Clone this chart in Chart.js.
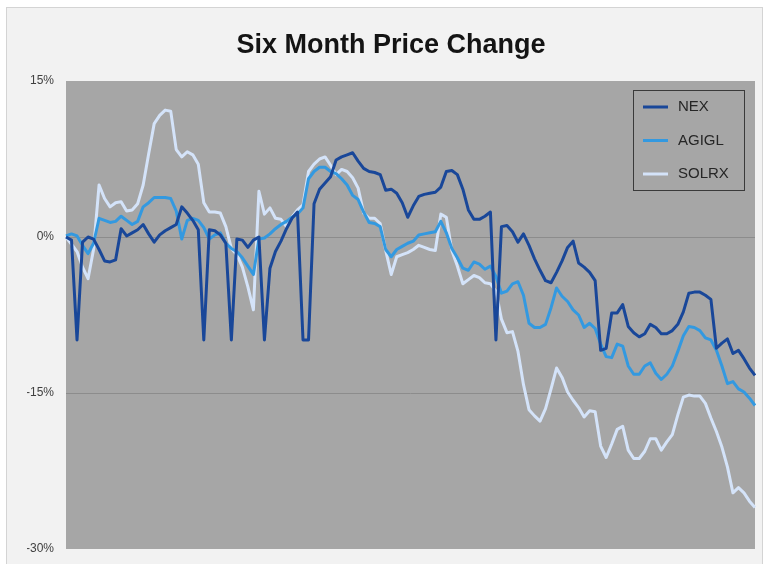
<!DOCTYPE html>
<html>
<head>
<meta charset="utf-8">
<title>Six Month Price Change</title>
<script src="https://cdn.jsdelivr.net/npm/chart.js@4.4.1/dist/chart.umd.min.js"></script>
<style>
  html, body { margin: 0; padding: 0; background: #ffffff; }
  canvas { display: block; }
</style>
</head>
<body>
<canvas id="priceChart" width="769" height="564"></canvas>
<script>
// trading days over the six months (x axis is not labelled in the original)
var days = Array.from({ length: 126 }, function (_, i) { return i + 1; });

// percent change
var nex = [
  0, -0.3, -9.9, -0.5, 0, -0.2, -1.2, -2.3, -2.4, -2.2,
  0.8, 0.1, 0.4, 0.7, 1.2, 0.3, -0.5, 0.2, 0.6, 0.9,
  1.2, 2.9, 2.3, 1.6, 0.7, -9.9, 0.7, 0.6, 0.2, -0.6,
  -9.9, -0.2, -0.3, -1.0, -0.3, 0, -9.9, -3.0, -1.4, -0.4,
  0.8, 1.8, 2.4, -9.9, -9.9, 3.2, 4.6, 5.2, 5.8, 7.4,
  7.7, 7.9, 8.1, 7.3, 6.6, 6.3, 6.2, 6.0, 4.5, 4.6,
  4.2, 3.3, 1.9, 3.0, 3.9, 4.1, 4.2, 4.3, 4.8, 6.3,
  6.4, 6.0, 4.6, 2.6, 1.7, 1.7, 2.0, 2.4, -9.9, 1.0,
  1.1, 0.5, -0.5, 0.3, -0.8, -2.1, -3.2, -4.2, -4.4, -3.4,
  -2.3, -1.0, -0.4, -2.5, -2.9, -3.4, -4.2, -10.9, -10.7, -7.3,
  -7.3, -6.5, -8.6, -9.2, -9.6, -9.3, -8.4, -8.7, -9.3, -9.3,
  -9.0, -8.4, -7.2, -5.4, -5.3, -5.3, -5.6, -6.0, -10.7, -10.2,
  -9.8, -11.2, -10.9, -11.7, -12.6, -13.3
];
var agigl = [
  0.1, 0.3, 0.1, -0.8, -1.6, -0.6, 1.8, 1.6, 1.4, 1.5,
  2.0, 1.6, 1.2, 1.5, 2.9, 3.3, 3.8, 3.8, 3.8, 3.7,
  2.5, -0.2, 1.6, 1.8, 1.6, 0.9, -0.2, 0.2, 0.4, -0.6,
  -1.1, -1.4, -2.0, -2.8, -3.6, -0.2, -0.1, 0.3, 0.8, 1.2,
  1.5, 1.9, 2.2, 2.8, 5.6, 6.3, 6.7, 6.7, 6.3, 6.1,
  5.6, 5.0, 4.0, 3.6, 2.4, 1.4, 1.3, 1.0, -1.2, -1.9,
  -1.2, -0.9, -0.6, -0.4, 0.2, 0.3, 0.4, 0.5, 1.5, 0.4,
  -1.1, -2.0, -3.0, -3.2, -2.4, -2.6, -3.1, -2.8, -3.8, -5.4,
  -5.2, -4.5, -4.3, -5.6, -8.3, -8.7, -8.7, -8.4, -6.8, -4.9,
  -5.7, -6.2, -7.0, -7.5, -8.7, -8.3, -8.8, -10.3, -11.5, -11.6,
  -10.3, -10.5, -12.4, -13.2, -13.2, -12.4, -12.1, -13.1, -13.7, -13.2,
  -12.4, -11.0, -9.5, -8.6, -8.7, -9.0, -9.7, -9.9, -10.9, -12.4,
  -14.1, -13.9, -14.6, -14.9, -15.5, -16.2
];
var solrx = [
  0, -0.7, -1.4, -2.9, -4.0, -1.2, 5.0, 3.7, 2.9, 3.3,
  3.4, 2.5, 2.6, 3.2, 5.0, 8.0, 10.9, 11.7, 12.2, 12.1,
  8.4, 7.7, 8.2, 7.9, 7.0, 3.3, 2.4, 2.4, 2.3, 1.0,
  -1.1, -1.7, -2.9, -4.8, -7.0, 4.4, 2.2, 2.8, 1.8, 1.7,
  1.0, 1.9, 2.6, 3.1, 6.3, 7.0, 7.5, 7.7, 6.9, 6.0,
  6.5, 6.3, 5.7, 4.7, 2.3, 1.8, 1.8, 1.3, -1.3, -3.6,
  -1.9, -1.7, -1.5, -1.2, -0.8, -1.0, -1.2, -1.3, 2.2, 1.9,
  -1.3, -2.8, -4.5, -4.1, -3.7, -3.9, -4.4, -4.5, -5.2, -7.9,
  -9.2, -9.1, -11.0, -14.2, -16.6, -17.2, -17.7, -16.5, -14.6, -12.6,
  -13.5, -14.9, -15.7, -16.4, -17.3, -16.7, -16.8, -20.1, -21.2, -19.9,
  -18.5, -18.2, -20.5, -21.3, -21.3, -20.6, -19.4, -19.4, -20.5, -19.7,
  -19.0, -17.1, -15.4, -15.2, -15.3, -15.3, -16.0, -17.4, -18.7, -20.2,
  -22.1, -24.6, -24.1, -24.6, -25.4, -26.0
];

var yTicks = [15, 0, -15, -30];

// panel + plot background
var backgroundPlugin = {
  id: 'background',
  beforeDraw: function (chart) {
    var ctx = chart.ctx;
    var a = chart.chartArea;
    ctx.save();
    ctx.fillStyle = '#ffffff';
    ctx.fillRect(0, 0, chart.width, chart.height);
    ctx.fillStyle = '#f2f2f2';
    ctx.fillRect(7, 8, 755, 560);
    ctx.strokeStyle = '#d4d4d4';
    ctx.lineWidth = 1;
    ctx.strokeRect(6.5, 7.5, 756, 561);
    ctx.fillStyle = '#a6a6a6';
    ctx.fillRect(a.left, a.top, a.right - a.left, a.bottom - a.top);
    ctx.restore();
  }
};

// boxed legend inside the plot, top right
var boxLegendPlugin = {
  id: 'boxLegend',
  afterDatasetsDraw: function (chart) {
    var ctx = chart.ctx;
    var a = chart.chartArea;
    var w = 111, h = 100;
    var x = a.right - 11 - w, y = 90;
    ctx.save();
    ctx.strokeStyle = '#3a3a3a';
    ctx.lineWidth = 1;
    ctx.strokeRect(Math.round(x) + 0.5, Math.round(y) + 0.5, w, h);
    ctx.font = '15px "Liberation Sans", Arial, sans-serif';
    ctx.textBaseline = 'middle';
    chart.data.datasets.forEach(function (ds, i) {
      var cy = y + 17 + i * 33.5;
      ctx.strokeStyle = ds.borderColor;
      ctx.lineWidth = 3;
      ctx.beginPath();
      ctx.moveTo(x + 10, cy);
      ctx.lineTo(x + 35, cy);
      ctx.stroke();
      ctx.fillStyle = '#262626';
      ctx.fillText(ds.label, x + 45, cy);
    });
    ctx.restore();
  }
};

function lineSet(label, values, color) {
  return {
    label: label,
    data: values,
    borderColor: color,
    backgroundColor: color,
    borderWidth: 3,
    pointRadius: 0,
    tension: 0,
    borderJoinStyle: 'round',
    fill: false
  };
}

var priceChart = new Chart(document.getElementById('priceChart'), {
  type: 'line',
  data: {
    labels: days,
    datasets: [
      lineSet('NEX', nex, '#194799'),
      lineSet('AGIGL', agigl, '#3399e0'),
      lineSet('SOLRX', solrx, '#d4e3f9')
    ]
  },
  options: {
    responsive: false,
    animation: false,
    // wide left padding shifts the title right, as in the original
    layout: { padding: { left: 27, right: 14, top: 8, bottom: 15 } },
    plugins: {
      legend: { display: false },
      tooltip: { enabled: false },
      title: {
        display: true,
        text: 'Six Month Price Change',
        color: '#141414',
        font: { family: '"Liberation Sans", Arial, sans-serif', size: 27, weight: 'bold' },
        padding: { top: 21, bottom: 19.6 }
      }
    },
    scales: {
      x: { display: false },
      y: {
        min: -30,
        max: 15,
        afterBuildTicks: function (scale) {
          scale.ticks = yTicks.map(function (v) { return { value: v }; });
        },
        afterFit: function (scale) {
          scale.width = 39;
          // let the end labels hang over the edges like the original
          scale.paddingTop = 0;
          scale.paddingBottom = 0;
        },
        ticks: {
          color: '#404040',
          padding: 12,
          font: { family: '"Liberation Sans", Arial, sans-serif', size: 12 },
          callback: function (v) { return v + '%'; }
        },
        grid: {
          drawTicks: false,
          lineWidth: 1,
          color: function (c) {
            return (c.tick && (c.tick.value === 0 || c.tick.value === -15)) ? '#8c8c8c' : 'rgba(0,0,0,0)';
          }
        },
        border: { display: false }
      }
    }
  },
  plugins: [backgroundPlugin, boxLegendPlugin]
});
</script>
</body>
</html>
